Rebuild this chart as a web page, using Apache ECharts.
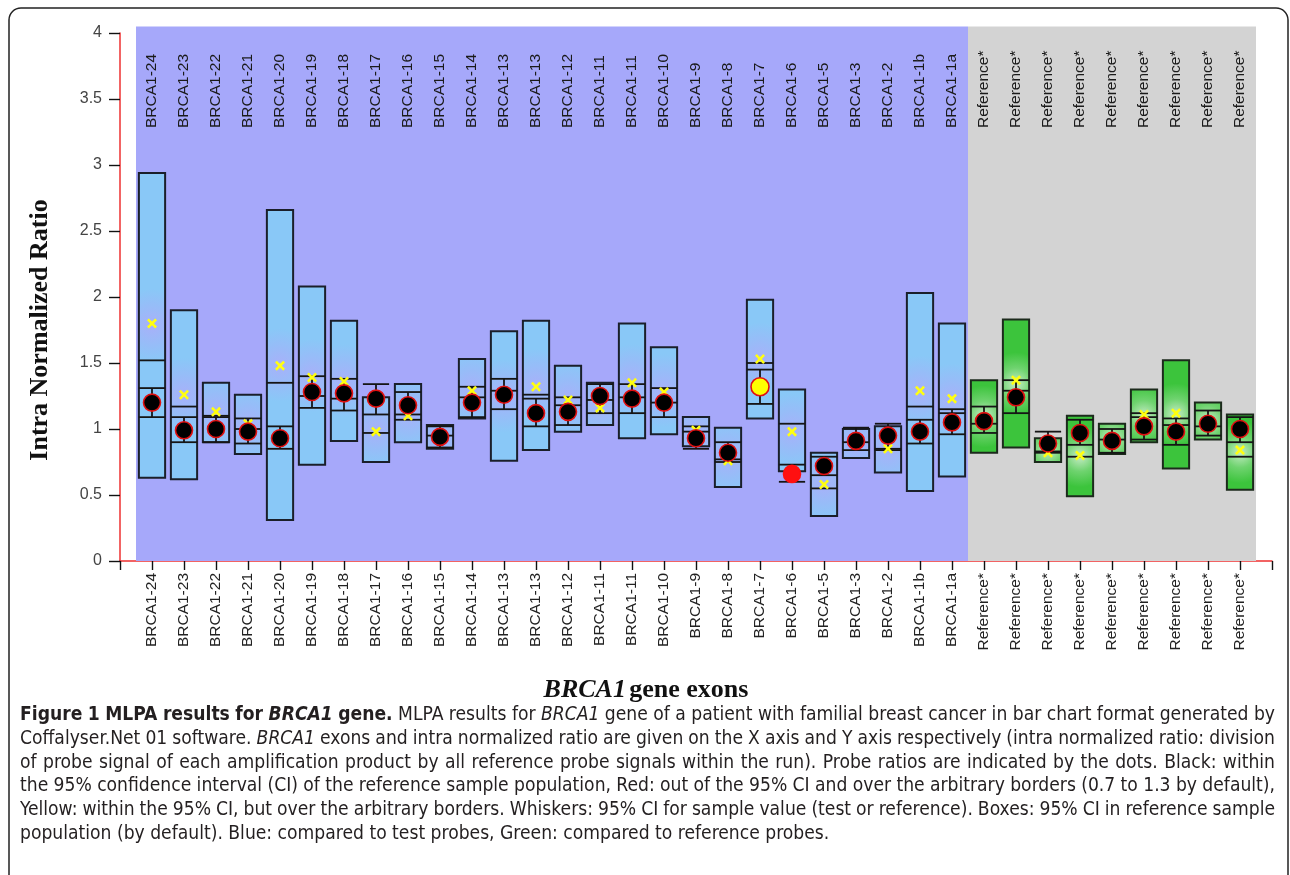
<!DOCTYPE html>
<html><head><meta charset="utf-8">
<script src="https://cdn.jsdelivr.net/npm/echarts/dist/echarts.min.js"></script>
<style>html,body{margin:0;padding:0;background:#fff}#c{width:1290px;height:875px}</style>
</head><body><div id="c"></div>
<script>
// ---------- data ----------
const categories = ['BRCA1-24','BRCA1-23','BRCA1-22','BRCA1-21','BRCA1-20','BRCA1-19','BRCA1-18','BRCA1-17','BRCA1-16','BRCA1-15','BRCA1-14','BRCA1-13','BRCA1-13','BRCA1-12','BRCA1-11','BRCA1-11','BRCA1-10','BRCA1-9','BRCA1-8','BRCA1-7','BRCA1-6','BRCA1-5','BRCA1-3','BRCA1-2','BRCA1-1b','BRCA1-1a',
  'Reference*','Reference*','Reference*','Reference*','Reference*','Reference*','Reference*','Reference*','Reference*'];
const probeType = ['test','test','test','test','test','test','test','test','test','test','test','test','test','test','test','test','test','test','test','test','test','test','test','test','test','test',
  'reference','reference','reference','reference','reference','reference','reference','reference','reference'];
const boxHigh = [2.94,1.90,1.35,1.26,2.66,2.08,1.82,1.24,1.34,1.03,1.53,1.74,1.82,1.48,1.35,1.80,1.62,1.09,1.01,1.98,1.30,0.82,1.00,1.02,2.03,1.80, 1.37,1.83,0.93,1.10,1.04,1.30,1.52,1.20,1.11];
const boxLow  = [0.63,0.62,0.90,0.81,0.31,0.73,0.91,0.75,0.90,0.85,1.08,0.76,0.84,0.98,1.03,0.93,0.96,0.87,0.56,1.08,0.68,0.34,0.78,0.67,0.53,0.64, 0.82,0.86,0.75,0.49,0.81,0.90,0.70,0.92,0.54];
const midLine = [1.52,1.17,1.10,1.00,1.35,1.25,1.23,0.97,1.07,0.95,1.24,1.29,1.26,1.24,1.22,1.24,1.20,0.98,0.75,1.50,1.04,0.55,0.90,0.84,1.17,1.12, 1.04,1.29,0.83,0.79,0.92,1.09,1.03,1.02,0.79];
const whiskerLow  = [1.09,0.90,0.90,0.89,0.85,1.16,1.14,1.11,1.11,0.86,1.09,1.15,1.02,1.03,1.12,1.12,1.09,0.85,0.77,1.19,0.60,0.65,0.84,0.85,0.89,0.96, 0.97,1.12,0.82,0.88,0.82,0.92,0.88,0.95,0.90];
const whiskerHigh = [1.31,1.09,1.09,1.08,1.02,1.40,1.38,1.34,1.28,1.02,1.32,1.38,1.23,1.18,1.34,1.34,1.31,1.02,0.90,1.45,0.73,0.79,1.01,1.04,1.07,1.15, 1.17,1.37,0.98,1.07,1.00,1.12,1.08,1.14,1.09];
const probeRatio = [1.20,0.99,1.00,0.98,0.93,1.28,1.27,1.23,1.18,0.94,1.20,1.26,1.12,1.13,1.25,1.23,1.20,0.93,0.82,1.32,0.66,0.72,0.91,0.95,0.98,1.05, 1.06,1.24,0.89,0.97,0.91,1.02,0.98,1.04,1.00];
const refMark = [1.80,1.26,1.13,1.04,1.48,1.39,1.36,0.98,1.10,0.95,1.29,1.27,1.32,1.22,1.16,1.35,1.28,0.99,0.76,1.53,0.98,0.58,0.92,0.85,1.29,1.23, 1.06,1.37,0.82,0.80,0.91,1.11,1.12,1.04,0.84];
const dotStatus = ['in','in','in','in','in','in','in','in','in','in','in','in','in','in','in','in','in','in','in','border','out','in','in','in','in','in', 'in','in','in','in','in','in','in','in','in'];
const yAxisTitle = 'Intra Normalized Ratio';
const xAxisTitleGene = 'BRCA1';
const xAxisTitleRest = 'gene exons';
const captionLines = [
 [['Figure 1 MLPA results for ','b'],['BRCA1','bi'],[' gene.','b'],[' MLPA results for ','n'],['BRCA1','i'],[' gene of a patient with familial breast cancer in bar chart format generated by','n']],
 [['Coffalyser.Net 01 software. ','n'],['BRCA1','i'],[' exons and intra normalized ratio are given on the X axis and Y axis respectively (intra normalized ratio: division','n']],
 [['of probe signal of each amplification product by all reference probe signals within the run). Probe ratios are indicated by the dots. Black: within','n']],
 [['the 95% confidence interval (CI) of the reference sample population, Red: out of the 95% CI and over the arbitrary borders (0.7 to 1.3 by default),','n']],
 [['Yellow: within the 95% CI, but over the arbitrary borders. Whiskers: 95% CI for sample value (test or reference). Boxes: 95% CI in reference sample','n']],
 [['population (by default). Blue: compared to test probes, Green: compared to reference probes.','n']]
];

// ---------- styles ----------
const HALF = 0.41;
const sansFam = '"Liberation Sans", Arial, sans-serif';
const serifFam = '"Liberation Serif", "Times New Roman", serif';
const capFam = '"Liberation Sans Narrow", "DejaVu Sans Condensed", sans-serif';
const blueFill = {type:'radial', x:0.5, y:0.5, r:1.3, colorStops:[{offset:0,color:'#a8b0f9'},{offset:0.55,color:'#96bdf8'},{offset:1,color:'#89c8f7'}]};
const greenFill = {type:'radial', x:0.5, y:0.5, r:1.1, colorStops:[{offset:0,color:'#c8ecc8'},{offset:0.5,color:'#6fd36f'},{offset:1,color:'#3cc43c'}]};
const dotColor = {in:'#000000', out:'#ff1010', border:'#ffff00'};

const chart = echarts.init(document.getElementById('c'), null, {renderer:'canvas'});
const N = categories.length;
const xs = categories.map((_, i) => i + 1);

// background bands from probe groups
const bands = [];
['test','reference'].forEach(t => {
  const idx = probeType.map((p,i)=>p===t?i+1:null).filter(v=>v!==null);
  bands.push([Math.min(...idx)-0.5, Math.max(...idx)+0.5, t]);
});

// caption layout (words justified)
const measCtx = document.createElement('canvas').getContext('2d');
function fontStr(st, size){ return (st.indexOf('i')>=0?'italic ':'normal ') + (st.indexOf('b')>=0?'bold ':'normal ') + size + 'px ' + capFam; }
function tokens(line){ const out=[]; line.forEach(([t,st])=>{ t.split(' ').filter(w=>w.length).forEach(w=>out.push([w,st])); }); return out; }
function lineWidth(line, size){ measCtx.font = fontStr('n', size); const sp = measCtx.measureText(' ').width; const tk=tokens(line); let w=0; tk.forEach(([t,st])=>{measCtx.font=fontStr(st,size); w+=measCtx.measureText(t).width;}); return w + sp*(tk.length-1); }
let capSize = 100 * 810 / lineWidth(captionLines[5], 100);
capSize = Math.max(13, Math.min(20, capSize));
const capLeft = 20, capRight = 1275, capTop = 715, capStep = 23.8;
const captionGraphics = [];
captionLines.forEach((line, li) => {
  const tk = tokens(line);
  const widths = tk.map(([t,st])=>{measCtx.font=fontStr(st,capSize); return measCtx.measureText(t).width;});
  const total = widths.reduce((a,b)=>a+b,0);
  measCtx.font = fontStr('n', capSize);
  let gap = measCtx.measureText(' ').width;
  if (li < captionLines.length-1) gap = (capRight - capLeft - total) / (tk.length - 1);
  let x = capLeft;
  tk.forEach(([t,st], k) => {
    captionGraphics.push({type:'text', x:x, y:capTop + li*capStep, silent:true,
      style:{text:t, fontFamily:capFam, fontSize:capSize, fontWeight:st.indexOf('b')>=0?'bold':'normal', fontStyle:st.indexOf('i')>=0?'italic':'normal', fill:'#231f20', align:'left', verticalAlign:'middle'}});
    x += widths[k] + gap;
  });
});

const option = {
  animation:false,
  grid:{left:120, right:18, top:33, bottom:314, containLabel:false},
  xAxis:{type:'value', min:0, max:N+1, interval:1,
    axisLine:{show:true, lineStyle:{color:'#ee3030', width:1.5}},
    axisTick:{show:true, length:9, lineStyle:{color:'#111', width:1.4}},
    splitLine:{show:false},
    axisLabel:{rotate:90, margin:12, fontSize:15.5, fontFamily:sansFam, color:'#222',
      formatter: v => (v>=1 && v<=N) ? categories[v-1] : '', showMinLabel:true, showMaxLabel:true}
  },
  yAxis:{type:'value', min:0, max:4, interval:0.5,
    axisLine:{show:true, lineStyle:{color:'#ee3030', width:1.5}},
    axisTick:{show:true, length:11, lineStyle:{color:'#111', width:1.4}},
    splitLine:{show:false},
    axisLabel:{margin:18, fontSize:16, fontFamily:sansFam, color:'#444', formatter: v => String(v)}
  },
  graphic:[
    {type:'rect', shape:{x:9, y:8, width:1279, height:920, r:12}, style:{fill:'none', stroke:'#222', lineWidth:1.5}, silent:true, z:-10},
    {type:'text', x:40, y:330, rotation:Math.PI/2, silent:true,
      style:{text:yAxisTitle, fontFamily:serifFam, fontWeight:'bold', fontSize:26, fill:'#111', align:'center', verticalAlign:'middle'}},
    {type:'text', x:646, y:690, silent:true,
      style:{text:'{g|'+xAxisTitleGene+'} {r|'+xAxisTitleRest+'}', align:'center', verticalAlign:'middle',
        rich:{g:{fontFamily:serifFam, fontWeight:'bold', fontStyle:'italic', fontSize:26, fill:'#111'},
              r:{fontFamily:serifFam, fontWeight:'bold', fontSize:26, fill:'#111'}}}},
    ...captionGraphics
  ],
  series:[
    { type:'custom', name:'bands', z:1, clip:false,
      data: bands,
      renderItem:(params, api) => {
        const b = bands[params.dataIndex];
        const p1 = api.coord([b[0], 4.05]); const p2 = api.coord([b[1], 0]);
        return {type:'rect', shape:{x:p1[0], y:p1[1], width:p2[0]-p1[0], height:p2[1]-p1[1]},
          style:{fill: b[2]==='test' ? '#a6a8fa' : '#d3d3d3'}};
      }
    },
    { type:'custom', name:'topLabels', z:2, clip:false,
      data: xs.map(i => [i, 3.28]),
      renderItem:(params, api) => {
        const p = api.coord([api.value(0), api.value(1)]);
        return {type:'text', x:p[0], y:p[1], rotation:Math.PI/2,
          style:{text:categories[params.dataIndex], fontFamily:sansFam, fontSize:15.5, fill:'#1a1a1a', align:'left', verticalAlign:'middle'}};
      }
    },
    { type:'custom', name:'boxes', z:3,
      data: xs.map((x,i) => [x, boxLow[i], boxHigh[i]]),
      renderItem:(params, api) => {
        const x = api.value(0);
        const p1 = api.coord([x-HALF, api.value(2)]); const p2 = api.coord([x+HALF, api.value(1)]);
        const isRef = probeType[params.dataIndex]==='reference';
        return {type:'rect', shape:{x:p1[0], y:p1[1], width:p2[0]-p1[0], height:p2[1]-p1[1]},
          style:{fill: isRef ? greenFill : blueFill, stroke: isRef ? '#1c2a1c' : '#1a1f2a', lineWidth:2}};
      }
    },
    { type:'custom', name:'lines', z:4,
      data: xs.map((x,i) => [x, midLine[i], whiskerLow[i], whiskerHigh[i]]),
      renderItem:(params, api) => {
        const x = api.value(0);
        const hl = (v) => { const a = api.coord([x-HALF, v]); const b = api.coord([x+HALF, v]);
          return {type:'line', shape:{x1:a[0], y1:a[1], x2:b[0], y2:b[1]}, style:{stroke:'#151515', lineWidth:1.8}}; };
        const lo = api.coord([x, api.value(2)]); const hi = api.coord([x, api.value(3)]);
        return {type:'group', children:[
          hl(api.value(1)), hl(api.value(2)), hl(api.value(3)),
          {type:'line', shape:{x1:lo[0], y1:lo[1], x2:hi[0], y2:hi[1]}, style:{stroke:'#151515', lineWidth:1.8}}
        ]};
      }
    },
    { type:'scatter', name:'refMarks', z:5,
      symbol:'path://M0,1.8 L1.8,0 L5,3.2 L8.2,0 L10,1.8 L6.8,5 L10,8.2 L8.2,10 L5,6.8 L1.8,10 L0,8.2 L3.2,5 Z',
      symbolSize:10, itemStyle:{color:'#ffff10', opacity:1},
      data: xs.map((x,i) => [x, refMark[i]])
    },
    { type:'scatter', name:'ratios', z:6, symbol:'circle', symbolSize:17,
      data: xs.map((x,i) => ({value:[x, probeRatio[i]],
        symbolSize: dotStatus[i]==='border' ? 18 : 17,
        itemStyle:{color:dotColor[dotStatus[i]], opacity:1, borderColor: dotStatus[i]==='out' ? '#ff1010' : '#e01010', borderWidth:1.6}}))
    }
  ]
};
chart.setOption(option);
</script></body></html>
